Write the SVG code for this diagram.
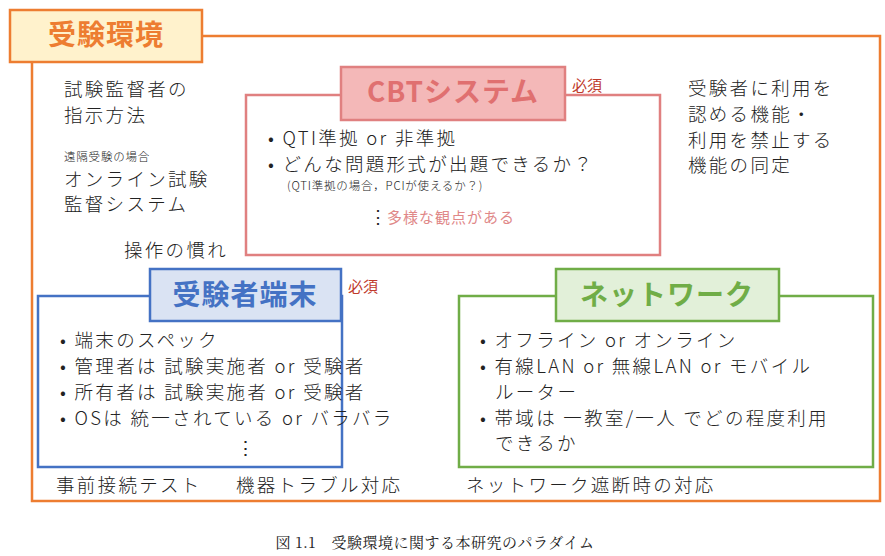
<svg xmlns="http://www.w3.org/2000/svg" width="885" height="556" viewBox="0 0 885 556">
<style>
text{font-family:"Noto Sans CJK JP","Noto Sans",sans-serif;fill:#222}
.t{font-size:18.5px;letter-spacing:2.3px;font-weight:300}
.lb{font-size:28px;font-weight:bold;letter-spacing:1px}
.s{font-size:11.5px;letter-spacing:0.8px;font-weight:300}
</style>
<rect width="885" height="556" fill="#fff"/>
<g id="env">
<rect x="32" y="36" width="848" height="465" fill="none" stroke="#ED7D31" stroke-width="2.5"/>
<rect x="10" y="10" width="192" height="52" fill="#FFF2CC" stroke="#ED7D31" stroke-width="2.5"/>
<text x="106" y="45" class="lb" text-anchor="middle" style="fill:#ED7D31">受験環境</text>
</g>
<g id="left-notes">
<text x="64" y="96" class="t">試験監督者の</text>
<text x="64" y="122" class="t">指示方法</text>
<text x="64" y="161" class="s">遠隔受験の場合</text>
<text x="64" y="186" class="t">オンライン試験</text>
<text x="64" y="211" class="t">監督システム</text>
<text x="124" y="257" class="t">操作の慣れ</text>
</g>
<g id="right-notes">
<text x="688" y="95" class="t">受験者に利用を</text>
<text x="688" y="121" class="t">認める機能・</text>
<text x="688" y="147" class="t">利用を禁止する</text>
<text x="688" y="172" class="t">機能の同定</text>
</g>
<g id="cbt">
<rect x="246" y="95" width="414" height="160" fill="#fff" stroke="#E08080" stroke-width="2.5"/>
<rect x="341" y="67" width="224" height="53" fill="#F4B8B8" stroke="#E08080" stroke-width="2.5"/>
<text x="453" y="102" class="lb" text-anchor="middle" style="fill:#E07070">CBTシステム</text>
<text x="572" y="91" font-size="15" style="fill:#C0392B">必須</text>
<text x="268" y="145" class="t">• QTI準拠 or 非準拠</text>
<text x="268" y="171" class="t">• どんな問題形式が出題できるか？</text>
<text x="287" y="190" class="s">(QTI準拠の場合，PCIが使えるか？)</text>
<text x="369" y="223" font-size="18" style="font-weight:300">⋮</text>
<text x="387" y="223" font-size="15" style="fill:#E08888;letter-spacing:1px">多様な観点がある</text>
</g>
<g id="terminal">
<rect x="38" y="296" width="304" height="171" fill="#fff" stroke="#4472C4" stroke-width="2.5"/>
<rect x="150" y="269" width="191" height="52" fill="#DAE3F3" stroke="#4472C4" stroke-width="2.5"/>
<text x="245" y="305" class="lb" text-anchor="middle" style="fill:#4472C4">受験者端末</text>
<text x="348" y="292" font-size="15" style="fill:#C0392B">必須</text>
<text x="60" y="347" class="t">• 端末のスペック</text>
<text x="60" y="373" class="t">• 管理者は 試験実施者 or 受験者</text>
<text x="60" y="399" class="t">• 所有者は 試験実施者 or 受験者</text>
<text x="60" y="425" class="t">• OSは 統一されている or バラバラ</text>
<text x="236" y="455" class="t">⋮</text>
</g>
<g id="network">
<rect x="459" y="296" width="414" height="171" fill="#fff" stroke="#70AD47" stroke-width="2.5"/>
<rect x="556" y="269" width="223" height="52" fill="#E2F0D9" stroke="#70AD47" stroke-width="2.5"/>
<text x="667" y="305" class="lb" text-anchor="middle" style="fill:#70AD47">ネットワーク</text>
<text x="480" y="347" class="t">• オフライン or オンライン</text>
<text x="480" y="373" class="t">• 有線LAN or 無線LAN or モバイル</text>
<text x="495" y="399" class="t">ルーター</text>
<text x="480" y="425" class="t">• 帯域は 一教室/一人 でどの程度利用</text>
<text x="495" y="450" class="t">できるか</text>
</g>
<g id="bottom-notes">
<text x="56" y="492" class="t">事前接続テスト</text>
<text x="236" y="492" class="t">機器トラブル対応</text>
<text x="466" y="492" class="t">ネットワーク遮断時の対応</text>
</g>
<g id="connectors"></g>
<text x="435" y="548" font-size="15" text-anchor="middle" style="font-family:'Noto Serif CJK JP','Liberation Serif',serif;letter-spacing:0.5px">図 1.1　受験環境に関する本研究のパラダイム</text>
</svg>
